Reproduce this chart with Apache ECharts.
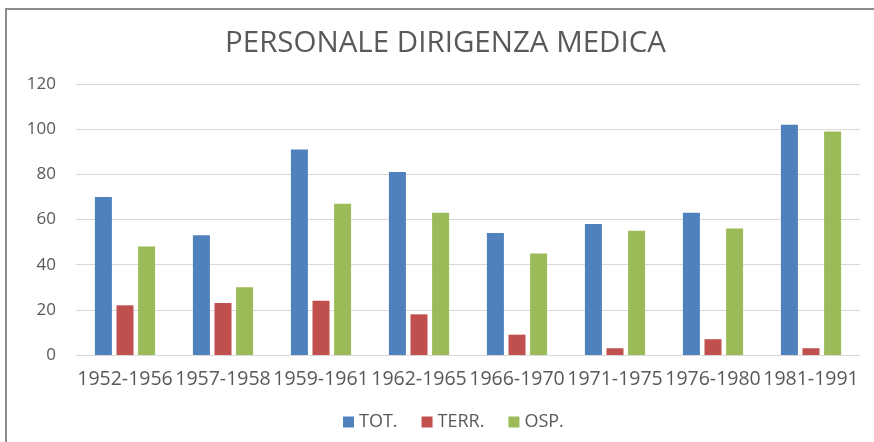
<!DOCTYPE html>
<html>
<head>
<meta charset="utf-8">
<title>Personale dirigenza medica</title>
<script src="https://cdn.jsdelivr.net/npm/echarts@6/dist/echarts.min.js"></script>
<style>
  html, body { margin: 0; padding: 0; background: #fff; }
  #chart { width: 874px; height: 442px; }
</style>
</head>
<body>
<div id="chart"></div>
<script>
const periods = ["1952-1956", "1957-1958", "1959-1961", "1962-1965", "1966-1970", "1971-1975", "1976-1980", "1981-1991"];
const tot = [70, 53, 91, 81, 54, 58, 63, 102];
const terr = [22, 23, 24, 18, 9, 3, 7, 3];
const osp = [48, 30, 67, 63, 45, 55, 56, 99];

const textColor = "#595959";
const font = "'Open Sans', sans-serif";

const chart = echarts.init(document.getElementById("chart"));

function barSeries(name, data, color) {
  return {
    name: name,
    type: "bar",
    data: data,
    barWidth: 17,
    barGap: "27%",
    itemStyle: { color: color },
    animation: false
  };
}

chart.setOption({
  textStyle: { fontFamily: font },
  title: {
    text: "PERSONALE DIRIGENZA MEDICA",
    left: 220,
    top: 24,
    textStyle: {
      color: textColor,
      fontSize: 29.5,
      fontWeight: "normal",
      fontFamily: font
    }
  },
  legend: {
    bottom: 6,
    left: 338,
    itemWidth: 11,
    itemHeight: 11,
    itemGap: 24,
    icon: "rect",
    textStyle: { color: textColor, fontSize: 18 },
    data: ["TOT.", "TERR.", "OSP."]
  },
  grid: {
    left: 76,
    right: 14,
    top: 84,
    bottom: 87,
    containLabel: false
  },
  xAxis: {
    type: "category",
    data: periods,
    axisLine: { lineStyle: { color: "#d9d9d9", width: 1 } },
    axisTick: { show: false },
    axisLabel: {
      interval: 0,
      color: textColor,
      fontSize: 19.5,
      margin: 14
    }
  },
  yAxis: {
    type: "value",
    min: 0,
    max: 120,
    interval: 20,
    axisLine: { show: false },
    axisTick: { show: false },
    axisLabel: { color: textColor, fontSize: 17, margin: 20 },
    splitLine: { lineStyle: { color: "#d9d9d9", width: 1 } }
  },
  graphic: [
    {
      type: "polyline",
      shape: { points: [[6, 442], [6, 9], [874, 9]] },
      style: { stroke: "#8c8c8c", lineWidth: 2, fill: null },
      silent: true
    }
  ],
  series: [
    barSeries("TOT.", tot, "#4f81bd"),
    barSeries("TERR.", terr, "#c0504d"),
    barSeries("OSP.", osp, "#9bbb59")
  ]
});
</script>
</body>
</html>
